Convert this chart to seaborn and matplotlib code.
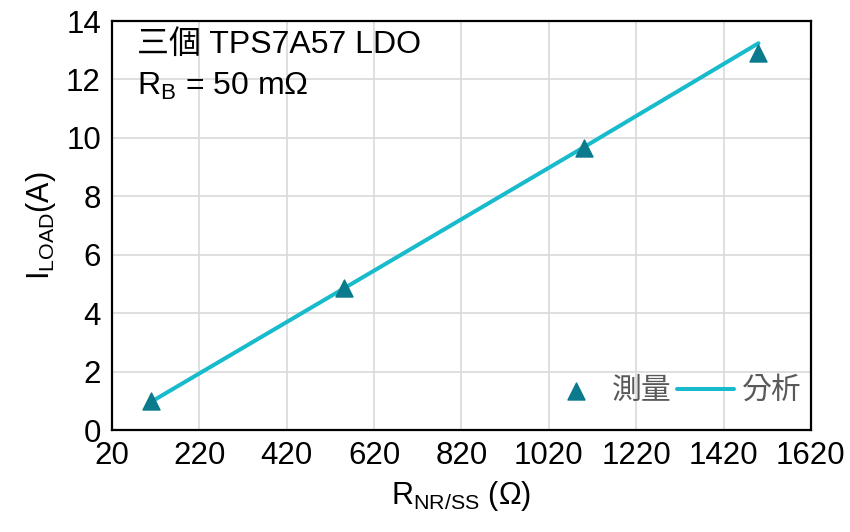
import matplotlib
matplotlib.use("Agg")
import matplotlib.pyplot as plt
import seaborn as sns
import pandas as pd
import numpy as np

# Load current vs. NR/SS resistor, three paralleled TPS7A57 LDOs
r_nrss = [110, 550, 1100, 1500]           # ohms
i_measured = [0.99, 4.86, 9.67, 12.92]    # A
i_analysis = [0.97, 4.84, 9.68, 13.24]    # A

x_ticks = list(range(20, 1621, 200))
y_ticks = list(range(0, 15, 2))

label_measured = "測量"
label_analysis = "分析"
note_line1 = "三個 TPS7A57 LDO"
note_line2 = r"$\mathregular{R_B}$ = 50 mΩ"

sns.set_theme(style="white")
latin_cjk = ["Liberation Sans", "Noto Sans CJK TC", "DejaVu Sans"]
plt.rcParams["font.family"] = latin_cjk
plt.rcParams["mathtext.fontset"] = "custom"
plt.rcParams["mathtext.rm"] = "Liberation Sans"
plt.rcParams["mathtext.it"] = "Liberation Sans:italic"
plt.rcParams["mathtext.bf"] = "Liberation Sans:bold"

df = pd.DataFrame({"R": r_nrss, "meas": i_measured, "calc": i_analysis})

fig = plt.figure(figsize=(8.5, 5.32), dpi=100)
ax = fig.add_axes([0.1318, 0.1917, 0.8222, 0.7688])

line_color = "#17BBCB"
marker_color = "#0B7A8C"

sns.lineplot(data=df, x="R", y="calc", ax=ax, color=line_color, linewidth=2.9,
             label=label_analysis, zorder=2)
sns.scatterplot(data=df, x="R", y="meas", ax=ax, marker="^", s=150,
                color=marker_color, edgecolor=marker_color, linewidth=1,
                label=label_measured, zorder=3)

ax.set_xlim(20, 1620)
ax.set_ylim(0, 14)
ax.set_xticks(x_ticks)
ax.set_yticks(y_ticks)
ax.tick_params(axis="both", length=0, labelsize=22.5, colors="black", pad=8)
ax.grid(True, color="#D9D9D9", linewidth=1.2)
ax.set_axisbelow(True)
for sp in ax.spines.values():
    sp.set_visible(True)
    sp.set_color("black")
    sp.set_linewidth(1.6)

ax.set_xlabel(r"$\mathregular{R_{NR/SS}}$ (Ω)", fontsize=22, color="black", labelpad=6)
ax.set_ylabel(r"$\mathregular{I_{LOAD}}$(A)", fontsize=22, color="black", labelpad=6)

ax.text(0.036, 0.978, note_line1, transform=ax.transAxes, fontsize=23,
        va="top", ha="left", color="black")
ax.text(0.036, 0.878, note_line2, transform=ax.transAxes, fontsize=23,
        va="top", ha="left", color="black")

handles, labels = ax.get_legend_handles_labels()
order = [labels.index(label_measured), labels.index(label_analysis)]
leg = ax.legend([handles[i] for i in order], [labels[i] for i in order],
                loc="lower right", ncol=2, frameon=False, fontsize=21.5,
                handlelength=1.9, handletextpad=0.25, columnspacing=0.2,
                borderaxespad=0.2, bbox_to_anchor=(1.012, 0.015))
for t in leg.get_texts():
    t.set_color("#595959")
    t.set_family(["Noto Sans CJK TC", "DejaVu Sans"])

fig.savefig("out.png", dpi=100)
